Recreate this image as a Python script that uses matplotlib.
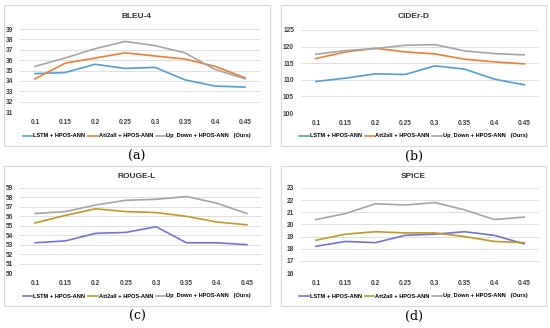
import matplotlib
matplotlib.use("Agg")
import matplotlib.pyplot as plt
from matplotlib.patches import Rectangle

plt.rcParams["font.family"] = ["Liberation Sans Narrow", "Liberation Sans", "DejaVu Sans"]

W, H = 550, 328

alphas = ["0.1", "0.15", "0.2", "0.25", "0.3", "0.35", "0.4", "0.45"]
labels = ["LSTM + HPOS-ANN", "Att2all + HPOS-ANN", "Up_Down + HPOS-ANN   (Ours)"]

bleu_lstm = [34.7, 34.8, 35.6, 35.2, 35.3, 34.1, 33.5, 33.4]
bleu_att = [34.2, 35.7, 36.2, 36.7, 36.4, 36.1, 35.4, 34.3]
bleu_ud = [35.4, 36.2, 37.1, 37.8, 37.4, 36.7, 35.1, 34.2]

cider_lstm = [109.5, 110.5, 111.8, 111.6, 114.2, 113.2, 110.2, 108.5]
cider_att = [116.4, 118.4, 119.5, 118.4, 117.8, 116.2, 115.4, 114.8]
cider_ud = [117.7, 118.8, 119.4, 120.4, 120.6, 118.7, 117.9, 117.5]

rouge_lstm = [53.2, 53.4, 54.2, 54.3, 54.9, 53.2, 53.2, 53.0]
rouge_att = [55.3, 56.1, 56.8, 56.5, 56.4, 56.0, 55.4, 55.1]
rouge_ud = [56.3, 56.5, 57.2, 57.7, 57.8, 58.1, 57.4, 56.3]

spice_lstm = [18.2, 18.6, 18.5, 19.1, 19.2, 19.4, 19.1, 18.4]
spice_att = [18.7, 19.2, 19.4, 19.3, 19.3, 19.0, 18.6, 18.5]
spice_ud = [20.4, 20.9, 21.7, 21.6, 21.8, 21.2, 20.4, 20.6]

colors_top = ["#4f9fd0", "#ed7d31", "#a5a5a5"]
colors_bot = ["#6f74d8", "#bf9a1f", "#a5a5a5"]


def rect(x0, y0, x1, y1):
    return [x0 / W, 1 - y1 / H, (x1 - x0) / W, (y1 - y0) / H]


fig = plt.figure(figsize=(W / 100, H / 100), dpi=100)


def panel(box, axbox, title, series, colors, ymin, ymax, step, caption):
    bx0, by0, bx1, by1 = box
    fig.patches.append(Rectangle((bx0 / W, 1 - by1 / H), (bx1 - bx0) / W, (by1 - by0) / H,
                                 transform=fig.transFigure, facecolor="white",
                                 edgecolor="#d9d9d9", linewidth=0.8, zorder=-5))
    ax = fig.add_axes(rect(*axbox))
    ax.patch.set_alpha(0)
    x = range(len(alphas))
    lines = []
    for s, c, lab in zip(series, colors, labels):
        ln, = ax.plot(x, s, color=c, linewidth=1.2, label=lab)
        lines.append(ln)
    ax.set_xlim(-0.5, len(alphas) - 0.5)
    ax.set_ylim(ymin, ymax)
    ax.set_yticks(range(ymin, ymax + 1, step))
    ax.set_xticks(list(x))
    ax.set_xticklabels(alphas)
    ax.tick_params(length=0, labelsize=4.8, colors="#404040", pad=5)
    for t in ax.get_xticklabels() + ax.get_yticklabels():
        t.set_fontweight("bold")
    ax.grid(axis="y", color="#d9d9d9", linewidth=0.6)
    ax.set_axisbelow(True)
    for sp in ax.spines.values():
        sp.set_visible(False)
    cx = (bx0 + bx1) / 2
    fig.text(cx / W, 1 - (by0 + 11) / H, title, ha="center", va="center",
             fontsize=6, fontweight="bold", color="#333333")
    fig.legend(lines, labels, loc="center", bbox_to_anchor=(cx / W, 1 - (by1 - 10) / H),
               ncol=3, frameon=False, handlelength=1.7, columnspacing=0.5,
               handletextpad=0.15, borderpad=0.2,
               prop={"weight": "bold", "size": 4.1})
    fig.text(cx / W, 1 - (by1 + 10) / H, caption, ha="center", va="center",
             fontsize=9, family="DejaVu Serif")


panel((4, 5, 270, 146), (20, 29, 260, 112), "BLEU-4",
      [bleu_lstm, bleu_att, bleu_ud], colors_top, 31, 39, 1, "(a)")
panel((281, 5, 546, 146), (301, 30, 539, 113), "CIDEr-D",
      [cider_lstm, cider_att, cider_ud], colors_top, 100, 125, 5, "(b)")
panel((4, 166, 270, 306), (20, 188, 262, 273), "ROUGE-L",
      [rouge_lstm, rouge_att, rouge_ud], colors_bot, 50, 59, 1, "(c)")
panel((281, 166, 546, 306), (301, 188, 539, 273), "SPICE",
      [spice_lstm, spice_att, spice_ud], colors_bot, 16, 23, 1, "(d)")

fig.savefig("out.png", dpi=100)
